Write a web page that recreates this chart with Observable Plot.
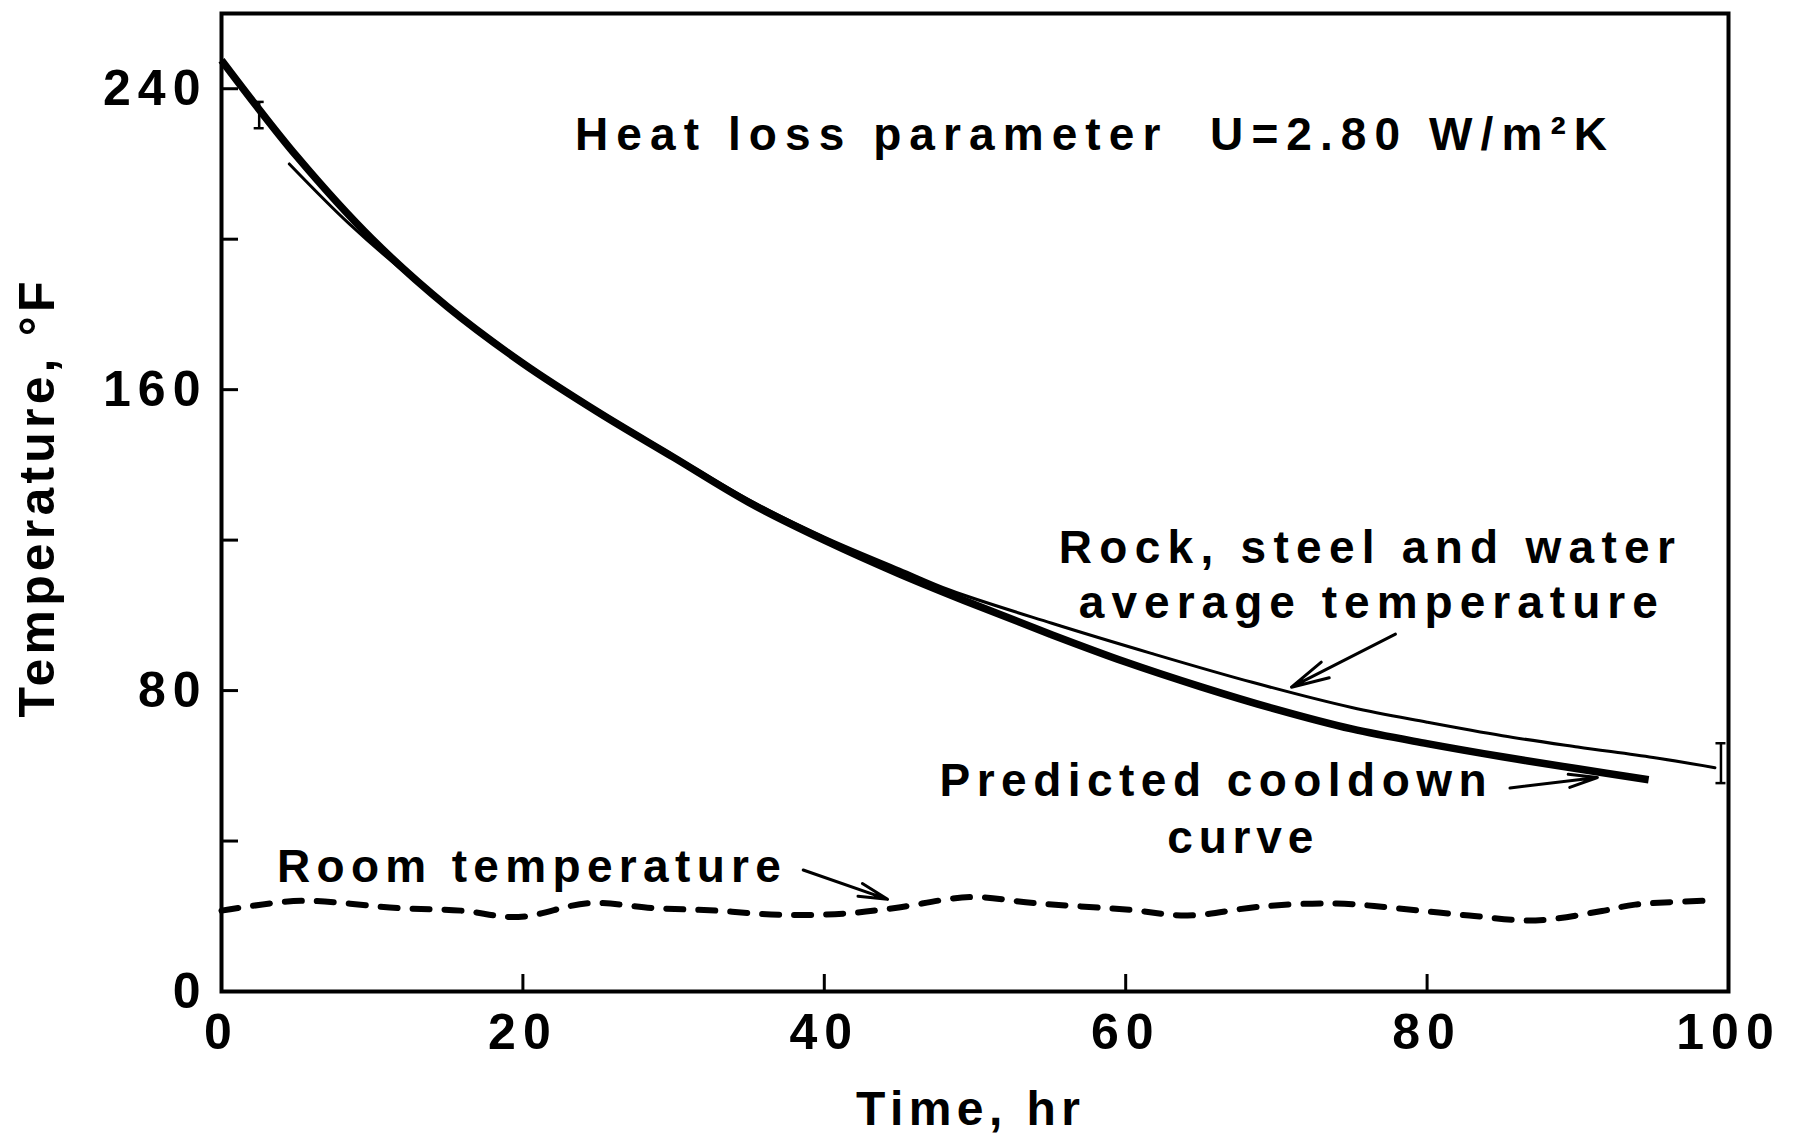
<!DOCTYPE html>
<html>
<head>
<meta charset="utf-8">
<script src="https://cdn.jsdelivr.net/npm/d3@7"></script>
<script src="https://cdn.jsdelivr.net/npm/@observablehq/plot@0.6"></script>
<style>
  html, body { margin: 0; padding: 0; background: #fff; }
  #chart { width: 1800px; height: 1137px; }
</style>
</head>
<body>
<div id="chart"></div>
<script>
// ---- data ----
const predictedTime = [0, 5, 10, 15, 20, 25, 30, 35, 40, 45, 50, 55, 60, 65, 70, 75, 80, 85, 90, 94.7];
const predictedTemp = [247.6, 222, 200, 182, 167, 154, 142, 130, 120, 111, 102.8, 95, 87.6, 81, 75, 69.8, 65.9, 62.4, 59.2, 56.3];

const averageTime = [4.5, 8.5, 13, 20, 25, 30, 35, 40, 45, 48.4, 55.1, 61.7, 68.4, 75, 80, 85, 90, 95, 99.1];
const averageTemp = [220, 204, 188.5, 167.5, 154.5, 142.5, 130.7, 120.8, 112.3, 106.6, 97.9, 89.9, 82.2, 75.5, 71.6, 68.0, 65.0, 62.2, 59.5];

const roomTime = [0, 1.1, 5.3, 11.7, 15.9, 19.7, 24.4, 28.6, 32.8, 37, 41.3, 44.7, 49.7, 53.9, 60.3, 64.1, 69, 74, 78.3, 82.8, 87.2, 91.6, 93.8, 99.1];
const roomTemp = [21.5, 22.2, 24.1, 22.2, 21.5, 19.8, 23.5, 22.2, 21.5, 20.4, 20.7, 22.2, 25.1, 23.5, 21.7, 20.2, 22.6, 23.4, 22, 20.2, 18.9, 21.4, 23.1, 24.2];

const errorTime = [2.5, 99.5];
const errorLow = [229.5, 55.4];
const errorHigh = [236.5, 66];

const xTickValues = [0, 20, 40, 60, 80, 100];
const xMinorTicks = [20, 40, 60, 80];
const yTickValues = [0, 80, 160, 240];
const yMinorTicks = [40, 80, 120, 160, 200, 240];

const noteText = ["Heat loss parameter  U=2.80 W/m\u00B2K", "Rock, steel and water", "average temperature", "Predicted cooldown", "curve", "Room temperature"];
const noteTime = [57.7, 76.0, 76.1, 65.8, 67.6, 20.4];
const noteTemp = [223.6, 114, 99.4, 52.1, 36.7, 29.2];

const arrowFromTime = [77.9, 85.5, 38.6];
const arrowFromTemp = [95, 54.1, 32.3];
const arrowToTime = [71.0, 91.3, 44.2];
const arrowToTemp = [80.9, 56.9, 24.5];

const xLabel = "Time, hr";
const yLabel = "Temperature, \u00B0F";

// ---- tables built from the arrays ----
const predicted = predictedTime.map((t, i) => ({t, v: predictedTemp[i]}));
const average = averageTime.map((t, i) => ({t, v: averageTemp[i]}));
const room = roomTime.map((t, i) => ({t, v: roomTemp[i]}));
const errors = errorTime.map((t, i) => ({t, lo: errorLow[i], hi: errorHigh[i]}));
const errorEnds = errors.flatMap(d => [{t: d.t, v: d.lo}, {t: d.t, v: d.hi}]);
const notes = noteText.map((text, i) => ({text, t: noteTime[i], v: noteTemp[i]}));
const arrows = arrowFromTime.map((t, i) => ({x1: t, y1: arrowFromTemp[i], x2: arrowToTime[i], y2: arrowToTemp[i]}));

const W = 1800, H = 1137;
const mL = 221, mR = 72, mT = 13, mB = 146;
const innerW = W - mL - mR, innerH = H - mT - mB;
const tickLen = 17;

const chart = Plot.plot({
  width: W,
  height: H,
  marginLeft: mL,
  marginRight: mR,
  marginTop: mT,
  marginBottom: mB,
  style: {fontFamily: "'Liberation Sans', Arial, sans-serif", color: "#000", background: "#fff", letterSpacing: "7px"},
  x: {domain: [0, 100]},
  y: {domain: [0, 260]},
  marks: [
    // inward tick marks
    Plot.ruleX(xMinorTicks, {x: d => d, insetTop: innerH - tickLen, stroke: "#000", strokeWidth: 3}),
    Plot.ruleY(yMinorTicks, {y: d => d, insetRight: innerW - tickLen, stroke: "#000", strokeWidth: 3}),
    // tick labels
    Plot.axisX({ticks: xTickValues, tickSize: 0, tickPadding: 22, fontSize: 50, fontWeight: "bold", label: null, tickFormat: d => String(d)}),
    Plot.axisY({ticks: yTickValues, tickSize: 0, tickPadding: 14, fontSize: 50, fontWeight: "bold", label: null, tickFormat: d => String(d)}),
    // axis titles
    Plot.text([xLabel], {text: d => d, frameAnchor: "bottom", textAnchor: "middle", dy: 133, dx: -7, lineAnchor: "bottom", fontSize: 48, fontWeight: "bold"}),
    Plot.text([yLabel], {text: d => d, frameAnchor: "left", textAnchor: "middle", rotate: -90, dx: -168, dy: -3, lineAnchor: "bottom", fontSize: 50, fontWeight: "bold"}),
    // room temperature (dashed)
    Plot.line(room, {x: "t", y: "v", curve: "catmull-rom", stroke: "#000", strokeWidth: 6, strokeDasharray: "17 15", strokeLinecap: "round"}),
    // rock, steel and water average (thin)
    Plot.line(average, {x: "t", y: "v", curve: "catmull-rom", stroke: "#000", strokeWidth: 3}),
    // predicted cooldown (thick)
    Plot.line(predicted, {x: "t", y: "v", curve: "catmull-rom", stroke: "#000", strokeWidth: 7.5, strokeLinecap: "butt"}),
    // error bars
    Plot.ruleX(errors, {x: "t", y1: "lo", y2: "hi", stroke: "#000", strokeWidth: 2.5}),
    Plot.ruleY(errorEnds, {y: "v", x1: "t", x2: "t", insetLeft: -5, insetRight: -5, stroke: "#000", strokeWidth: 2.5}),
    // arrows
    Plot.arrow(arrows, {x1: "x1", y1: "y1", x2: "x2", y2: "y2", stroke: "#000", strokeWidth: 3, headLength: 26, headAngle: 26, bend: 0}),
    // annotations
    Plot.text(notes, {x: "t", y: "v", text: "text", lineAnchor: "bottom", textAnchor: "middle", fontSize: 46, fontWeight: "bold", fill: "#000"}),
    // frame
    Plot.frame({stroke: "#000", strokeWidth: 4})
  ]
});

// stretch the lettering to the spacing of the reference
const targetWidths = new Map([
  [noteText[0], 1032], [noteText[1], 616], [noteText[2], 579],
  [noteText[3], 547], [noteText[4], 146], [noteText[5], 504],
  [xLabel, 224], [yLabel, 436]
]);
chart.querySelectorAll("text").forEach(el => {
  const w = targetWidths.get(el.textContent);
  if (w) {
    el.setAttribute("textLength", w);
    el.setAttribute("lengthAdjust", "spacing");
    el.style.letterSpacing = "0px";
  }
});

document.getElementById("chart").appendChild(chart);
</script>
</body>
</html>
